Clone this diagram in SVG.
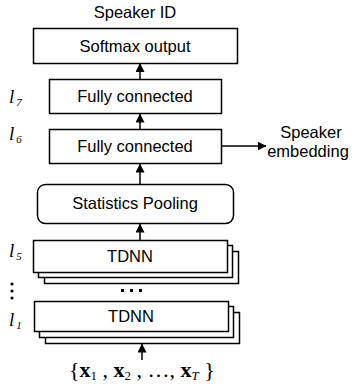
<svg xmlns="http://www.w3.org/2000/svg" width="356" height="390" viewBox="0 0 356 390">
<defs>
<style>
.box{fill:#fff;stroke:#000;stroke-width:1.5}
.t{font-family:"Liberation Sans",Arial,sans-serif;font-size:16.5px;fill:#000;text-anchor:middle}
.l{font-family:"Liberation Serif","Times New Roman",serif;font-style:italic;font-size:19px;fill:#000}
.sub{font-size:11px}
.c{stroke:#000;stroke-width:1.5;fill:none}
</style>
<marker id="ah" markerWidth="9" markerHeight="9" refX="8.5" refY="4.5" orient="auto" markerUnits="userSpaceOnUse" viewBox="0 0 9 9">
<path d="M0,0 L9,4.5 L0,9 Z" fill="#000"/>
</marker>
</defs>
<rect width="356" height="390" fill="#fff"/>
<text class="t" x="135" y="18">Speaker ID</text>
<g id="softmax"><rect class="box" x="33.5" y="28.5" width="204" height="35"/><text class="t" x="135" y="52">Softmax output</text></g>
<g id="fc7"><rect class="box" x="49.5" y="79.5" width="172" height="34"/><text class="t" x="135" y="102">Fully connected</text></g>
<g id="fc6"><rect class="box" x="49.5" y="129.5" width="172" height="34"/><text class="t" x="135" y="152">Fully connected</text></g>
<g id="pooling"><rect class="box" x="37.5" y="184.5" width="196" height="39" rx="8"/><text class="t" x="135" y="209">Statistics Pooling</text></g>
<g id="tdnn5">
<rect class="box" x="44.5" y="251.5" width="194" height="32"/>
<rect class="box" x="38.5" y="245.5" width="194" height="32"/>
<rect class="box" x="33.5" y="240.5" width="194" height="32"/>
<text class="t" x="130" y="262">TDNN</text></g>
<g id="dots">
<rect x="121" y="289" width="3" height="3"/><rect x="130" y="289" width="3" height="3"/><rect x="139" y="289" width="3" height="3"/>
<circle cx="12" cy="284" r="1.6"/><circle cx="12" cy="291" r="1.6"/><circle cx="12" cy="298" r="1.6"/></g>
<g id="tdnn1">
<rect class="box" x="45.5" y="312.5" width="194" height="31"/>
<rect class="box" x="39.5" y="306.5" width="194" height="31"/>
<rect class="box" x="34.5" y="301.5" width="194" height="30"/>
<text class="t" x="131" y="322">TDNN</text></g>
<g id="labels">
<text class="l" x="9" y="103">l<tspan class="sub" dx="2" dy="3">7</tspan></text>
<text class="l" x="9" y="140">l<tspan class="sub" dx="2" dy="3">6</tspan></text>
<text class="l" x="9" y="257">l<tspan class="sub" dx="2" dy="3">5</tspan></text>
<text class="l" x="9" y="326">l<tspan class="sub" dx="2" dy="3">1</tspan></text>
</g>
<g id="embedding"><text class="t" x="311" y="138">Speaker</text><text class="t" x="308" y="157">embedding</text></g>
<g id="input"><text x="69" y="377" style="font-family:'Liberation Serif','Times New Roman',serif;font-size:22px;fill:#000">{<tspan font-weight="bold">x</tspan><tspan font-size="13" dy="3">1</tspan><tspan dy="-3"> , </tspan><tspan font-weight="bold">x</tspan><tspan font-size="13" dy="3">2</tspan><tspan dy="-3"> , …, </tspan><tspan font-weight="bold">x</tspan><tspan font-size="13" font-style="italic" dy="3">T</tspan><tspan dy="-3"> }</tspan></text></g>
<g id="connectors">
<line class="c" x1="140" y1="79" x2="140" y2="63.5" marker-end="url(#ah)"/>
<line class="c" x1="140" y1="129" x2="140" y2="114" marker-end="url(#ah)"/>
<line class="c" x1="140" y1="184" x2="140" y2="164" marker-end="url(#ah)"/>
<line class="c" x1="140" y1="240" x2="140" y2="224" marker-end="url(#ah)"/>
<line class="c" x1="142" y1="360" x2="142" y2="344" marker-end="url(#ah)"/>
<line class="c" x1="221" y1="146" x2="266" y2="146" marker-end="url(#ah)"/>
</g>
</svg>
